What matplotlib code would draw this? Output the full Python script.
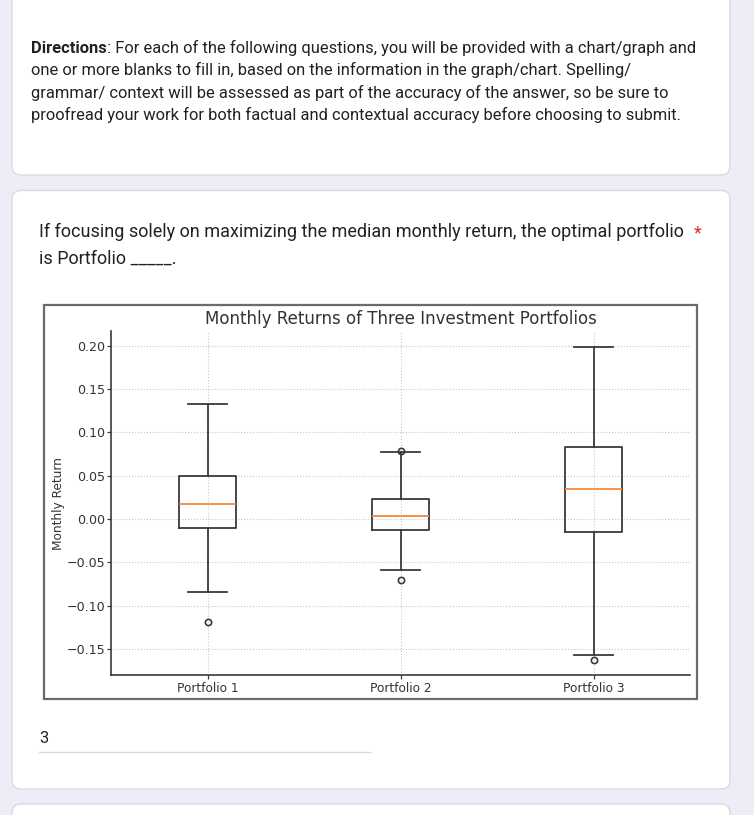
import matplotlib
matplotlib.use("Agg")
import matplotlib.pyplot as plt
from matplotlib.patches import FancyBboxPatch, Rectangle

# --- data ---
portfolios = ["Portfolio 1", "Portfolio 2", "Portfolio 3"]
medians = [0.017, 0.0035, 0.035]
q1 = [-0.011, -0.0125, -0.0145]
q3 = [0.050, 0.023, 0.0835]
whisker_low = [-0.084, -0.0585, -0.1565]
whisker_high = [0.133, 0.0775, 0.199]
outliers = [[-0.1195], [0.079, -0.0705], [-0.163]]

title = "Monthly Returns of Three Investment Portfolios"
ylabel = "Monthly Return"

directions_bold = "Directions"
directions_lines = [
    ": For each of the following questions, you will be provided with a chart/graph and",
    "one or more blanks to fill in, based on the information in the graph/chart. Spelling/",
    "grammar/ context will be assessed as part of the accuracy of the answer, so be sure to",
    "proofread your work for both factual and contextual accuracy before choosing to submit.",
]
question_lines = [
    "If focusing solely on maximizing the median monthly return, the optimal portfolio",
    "is Portfolio _____.",
]
answer = "3"

W, H = 754, 815
PAGE_BG = "#efebf7"
TEXT = "#202124"

fig = plt.figure(figsize=(W / 100, H / 100), dpi=100)
fig.patch.set_facecolor(PAGE_BG)

# page layer in pixel coordinates
bg = fig.add_axes([0, 0, 1, 1])
bg.set_xlim(0, W)
bg.set_ylim(H, 0)
bg.axis("off")


def card(y0, y1):
    bg.add_patch(FancyBboxPatch((12, y0), 718, y1 - y0,
                                boxstyle="round,pad=0,rounding_size=9",
                                facecolor="white", edgecolor="#dcd9e3", lw=1))


card(-20, 175)
card(190.5, 789)
card(804, 840)

# directions card
fs_dir = 11.85
t = bg.text(31, 53, directions_bold, fontsize=fs_dir, family="Roboto",
            fontweight="bold", color=TEXT, va="baseline")
bg.annotate(directions_lines[0], xy=(1, 0), xycoords=t, fontsize=fs_dir,
            family="Roboto", color=TEXT, va="bottom", ha="left")
for i, line in enumerate(directions_lines[1:]):
    bg.text(31, 75.4 + 22.3 * i, line, fontsize=fs_dir, family="Roboto",
            color=TEXT, va="baseline")

# question
for i, line in enumerate(question_lines):
    bg.text(39, 237.3 + 26.7 * i, line, fontsize=13.0, family="Roboto",
            color=TEXT, va="baseline")
bg.text(694, 238, "*", fontsize=13.0, family="Roboto", color="#d93025",
        va="baseline")

# answer field
bg.text(39, 742.7, answer, fontsize=11.9, family="Roboto", color=TEXT,
        va="baseline")
bg.plot([39, 371], [752, 752], color="#dadce0", lw=1)

# embedded chart frame
bg.add_patch(Rectangle((44, 305), 653, 394, facecolor="white",
                       edgecolor="#6b6b6b", lw=1.6))

# --- chart ---
ax = fig.add_axes([111 / W, 1 - 675.3 / H, 579 / W, 344.3 / H])
stats = []
for i in range(len(portfolios)):
    stats.append(dict(med=medians[i], q1=q1[i], q3=q3[i],
                      whislo=whisker_low[i], whishi=whisker_high[i],
                      fliers=outliers[i], label=portfolios[i]))

box_c = "#3a3a3a"
ax.bxp(stats, widths=0.3, capwidths=0.2,
       boxprops=dict(color=box_c, lw=1.3),
       whiskerprops=dict(color=box_c, lw=1.3),
       capprops=dict(color=box_c, lw=1.3),
       medianprops=dict(color="#f5893f", lw=1.3),
       flierprops=dict(marker="o", markerfacecolor="none",
                       markeredgecolor=box_c, markersize=4.5, mew=1.2))

ax.set_xlim(0.5, 3.5)
ax.set_ylim(-0.1805, 0.217)
ax.set_yticks([-0.15, -0.10, -0.05, 0.00, 0.05, 0.10, 0.15, 0.20])
ax.set_yticklabels(["\u22120.15", "\u22120.10", "\u22120.05", "0.00",
                    "0.05", "0.10", "0.15", "0.20"])
ax.grid(True, linestyle=":", color="#c8c8c8", lw=0.8)
ax.set_axisbelow(True)
for s in ["top", "right"]:
    ax.spines[s].set_visible(False)
for s in ["left", "bottom"]:
    ax.spines[s].set_color("#3a3a3a")
    ax.spines[s].set_linewidth(1.2)
ax.tick_params(colors="#3a3a3a", labelcolor="#333333", length=3, width=0.9)
ax.tick_params(axis="y", labelsize=9.1, pad=1)
ax.tick_params(axis="x", labelsize=8.7, pad=1.5)
ax.set_title(title, fontsize=12.0, color="#333333", pad=5)
ax.set_ylabel(ylabel, fontsize=8.7, color="#333333", labelpad=1)

fig.savefig("out.png", dpi=100, facecolor=PAGE_BG)
